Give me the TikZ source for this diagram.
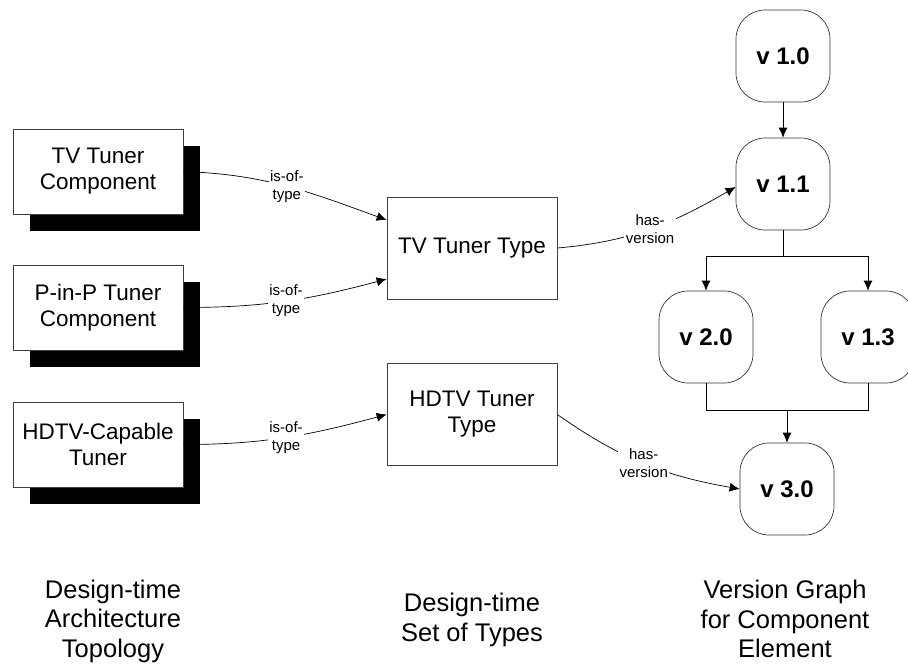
\documentclass[tikz,border=0pt]{standalone}
\usepackage{fontspec}
\setmainfont{Liberation Sans}
\usetikzlibrary{arrows.meta, shadows}

\tikzset{
  comp/.style={rectangle, draw=black!75, fill=white, line width=0.7pt, minimum width=170pt, minimum height=85pt, align=center, font=\fontsize{22.5}{26}\selectfont,
    general shadow={fill=black, shadow xshift=17pt, shadow yshift=-17pt}},
  typebox/.style={rectangle, draw=black!75, fill=white, line width=0.7pt, minimum width=170pt, minimum height=102pt, align=center, font=\fontsize{22.5}{26}\selectfont},
  ver/.style={rectangle, rounded corners=29pt, draw=black!80, line width=0.7pt, minimum width=94pt, minimum height=92pt, font=\fontsize{24}{28}\selectfont\bfseries},
  lbl/.style={fill=white, inner sep=1.5pt, align=center, font=\fontsize{15}{18}\selectfont},
  captext/.style={align=center, font=\fontsize{25.5}{29.5}\selectfont},
  link/.style={line width=0.7pt, -{Latex[length=10pt, width=9pt]}}
}

\begin{document}
\begin{tikzpicture}[x=1pt, y=1pt]
\useasboundingbox (0,0) rectangle (908,-665);

% design-time architecture
\node[comp] (ttc) at (98,-171.5) {TV Tuner\\Component};
\node[comp] (pip) at (98,-307.5) {P-in-P Tuner\\Component};
\node[comp] (hdc) at (98,-444.5) {HDTV-Capable\\Tuner};

% types
\node[typebox] (tvt) at (472,-248) {TV Tuner Type};
\node[typebox] (hdt) at (472,-414.5) {HDTV Tuner\\Type};

% version graph
\node[ver] (v10) at (783,-56)  {v 1.0};
\node[ver] (v11) at (783,-184) {v 1.1};
\node[ver] (v20) at (706,-337) {v 2.0};
\node[ver] (v13) at (868,-337) {v 1.3};
\node[ver] (v30) at (787,-489) {v 3.0};

\coordinate (split) at (783,-256);
\coordinate (join)  at (787,-410);

\draw[link] (ttc.east) to[out=-2, in=160] node[lbl] {is-of-\\type} ([yshift=28pt]tvt.west);
\draw[link] (pip.east) to[out=0, in=195] node[lbl] {is-of-\\type} ([yshift=-31pt]tvt.west);
\draw[link] (hdc.east) to[out=0, in=195] node[lbl] {is-of-\\type} (hdt.west);

\draw[link] (tvt.east) to[out=5, in=210] node[lbl] {has-\\version} ([yshift=-3pt]v11.west);
\draw[link] (hdt.east) to[out=-35, in=170] node[lbl] {has-\\version} (v30.west);

\draw[link] (v10) -- (v11);
\draw[line width=0.7pt] (v11) -- (split);
\draw[link] (split) -| (v20);
\draw[link] (split) -| (v13);
\draw[line width=0.7pt] (v20) |- (join);
\draw[line width=0.7pt] (v13) |- (join);
\draw[link] (join) -- (v30);

% captions
\node[captext] (c1) at (113,-621) {Design-time\\Architecture\\Topology};
\node[captext] (c2) at (472,-620) {Design-time\\Set of Types};
\node[captext] (c3) at (785,-619) {Version Graph\\for Component\\Element};
\end{tikzpicture}
\end{document}
